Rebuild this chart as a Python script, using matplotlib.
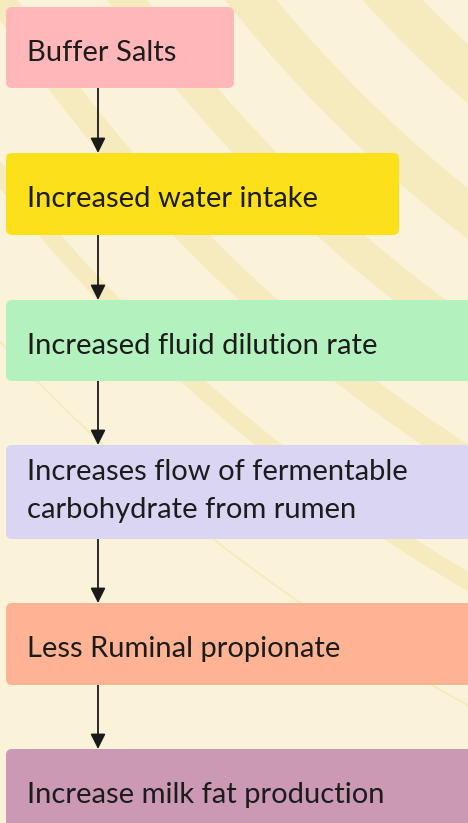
import matplotlib
matplotlib.use("Agg")
import matplotlib.pyplot as plt
from matplotlib.patches import FancyBboxPatch, Circle

# ---- data ----
steps = [
    "Buffer Salts",
    "Increased water intake",
    "Increased fluid dilution rate",
    "Increases flow of fermentable\ncarbohydrate from rumen",
    "Less Ruminal propionate",
    "Increase milk fat production",
]
box_colors = ["#FFB7BA", "#FCE11A", "#B3F2BE", "#DAD5F3", "#FFB395", "#CB99B3"]

# ---- layout (pixels, image coordinates) ----
W, H = 468, 823
box_x = 6
box_right = [234, 399, 480, 480, 480, 480]
box_top = [7, 153, 300, 445, 603, 749]
box_bot = [88, 235, 381, 539, 685, 840]
arrow_x = 98
text_x = 27

bg = "#FAF3D9"
stripe = "#F6EABF"

fig = plt.figure(figsize=(W / 100, H / 100), dpi=100)
fig.patch.set_facecolor(bg)
ax = fig.add_axes([0, 0, 1, 1])
ax.set_xlim(0, W)
ax.set_ylim(H, 0)
ax.axis("off")
ax.set_facecolor(bg)

# decorative background arcs (concentric, centred up-right)
cx, cy = 1298, -847
for r, w in [(1240, 44), (1347, 40), (1445, 32), (1548, 26), (1652, 17), (1760, 2)]:
    c = Circle((cx, cy), r, fill=False, edgecolor=stripe, linewidth=w * 0.72, zorder=1)
    ax.add_patch(c)

for i, label in enumerate(steps):
    y0, y1 = box_top[i], box_bot[i]
    p = FancyBboxPatch((box_x, y0), box_right[i] - box_x, y1 - y0,
                       boxstyle="round,pad=0,rounding_size=6",
                       facecolor=box_colors[i], edgecolor="none", zorder=3)
    ax.add_patch(p)
    lines = label.split("\n")
    first = y0 + (53.5 if len(lines) == 1 else 35)
    for k, line in enumerate(lines):
        ax.text(text_x, first + 38 * k, line, fontsize=21, family="Lato",
                color="#1c1c1c", va="baseline", ha="left", zorder=4)
    if i < len(steps) - 1:
        ax.annotate("", xy=(arrow_x, box_top[i + 1]), xytext=(arrow_x, y1),
                    arrowprops=dict(arrowstyle="-|>,head_length=0.9,head_width=0.45",
                                    color="#1a1a1a", lw=1.3, shrinkA=0, shrinkB=0),
                    zorder=2)

fig.savefig("out.png", dpi=100, facecolor=bg)
